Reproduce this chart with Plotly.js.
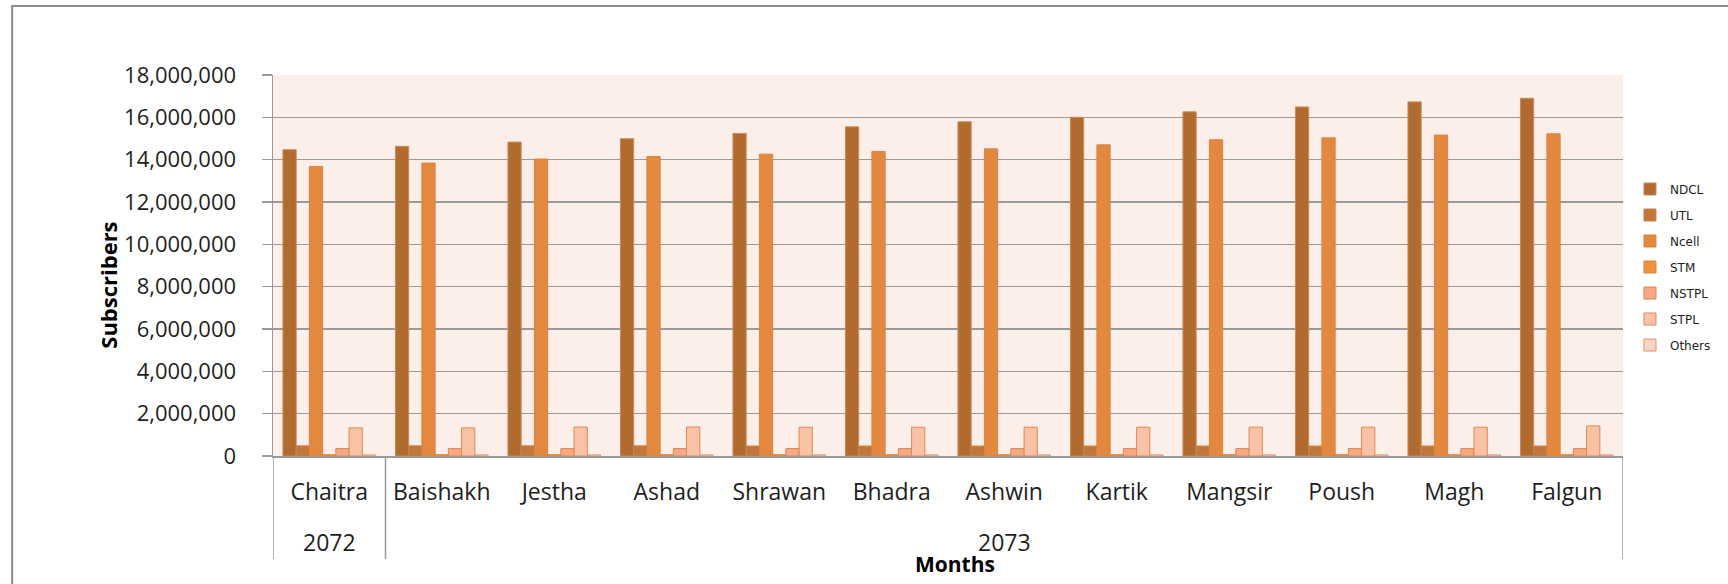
<!DOCTYPE html>
<html>
<head>
<meta charset="utf-8">
<script src="https://cdn.plot.ly/plotly-3.0.1.min.js"></script>
<style>
  html, body { margin: 0; padding: 0; background: #ffffff; }
  #chart { width: 1728px; height: 584px; }
</style>
</head>
<body>
<div id="chart"></div>
<script>
// ---- data ----
const years  = ['2072', '2073', '2073', '2073', '2073', '2073', '2073', '2073', '2073', '2073', '2073', '2073'];
const months = ['Chaitra', 'Baishakh', 'Jestha', 'Ashad', 'Shrawan', 'Bhadra', 'Ashwin', 'Kartik', 'Mangsir', 'Poush', 'Magh', 'Falgun'];
const seriesNames = ['NDCL', 'UTL', 'Ncell', 'STM', 'NSTPL', 'STPL', 'Others'];

const NDCL   = [14470000, 14630000, 14830000, 14990000, 15240000, 15550000, 15790000, 16000000, 16260000, 16490000, 16730000, 16900000];
const UTL    = [480000, 480000, 480000, 480000, 470000, 470000, 470000, 470000, 470000, 470000, 470000, 470000];
const Ncell  = [13680000, 13840000, 14030000, 14150000, 14260000, 14390000, 14510000, 14700000, 14940000, 15030000, 15160000, 15220000];
const STM    = [60000, 60000, 60000, 60000, 60000, 60000, 60000, 60000, 60000, 60000, 60000, 60000];
const NSTPL  = [350000, 350000, 350000, 350000, 350000, 350000, 350000, 350000, 350000, 350000, 350000, 350000];
const STPL   = [1330000, 1330000, 1370000, 1370000, 1360000, 1360000, 1360000, 1360000, 1360000, 1360000, 1360000, 1420000];
const Others = [50000, 50000, 50000, 50000, 50000, 50000, 50000, 50000, 50000, 50000, 50000, 50000];

const seriesValues = [NDCL, UTL, Ncell, STM, NSTPL, STPL, Others];
const yTickVals = [0, 2000000, 4000000, 6000000, 8000000, 10000000, 12000000, 14000000, 16000000, 18000000];
const yTickText = ['0', '2,000,000', '4,000,000', '6,000,000', '8,000,000', '10,000,000', '12,000,000', '14,000,000', '16,000,000', '18,000,000'];
const xTitle = 'Months';
const yTitle = 'Subscribers';

// ---- styles ----
const fills   = ['#B26B2F', '#C2773A', '#E2883F', '#F0913F', '#F6A982', '#F9C2A5', '#FAD6C6'];
const outline = ['#C98A5C', '#C98048', '#D9833F', '#D9843E', '#DB8652', '#DC8A58', '#DE9468'];
const gray = '#9a9a9a';

const traces = seriesNames.map((name, i) => ({
  type: 'bar',
  name: name,
  legendgroup: name,
  x: months,
  y: seriesValues[i],
  marker: { color: fills[i], line: { color: outline[i], width: 1 } },
  hoverinfo: 'skip'
}));

const plotLeft = 273, plotRight = 1629, plotTop = 75, plotBottom = 456;
const pw = plotRight - plotLeft, ph = plotBottom - plotTop;
const px = v => (v - plotLeft) / pw;
const py = v => (plotBottom - v) / ph;

// year groups (second category level) derived from the years array
const groups = [];
years.forEach((yr, i) => {
  if (groups.length && groups[groups.length - 1].year === yr) groups[groups.length - 1].end = i;
  else groups.push({ year: yr, start: i, end: i });
});

const annotations = groups.map(g => ({
  text: g.year,
  xref: 'x', yref: 'paper',
  x: (g.start + g.end) / 2, y: py(542),
  xanchor: 'center', yanchor: 'middle',
  height: 22,
  showarrow: false,
  font: { family: 'Open Sans, sans-serif', size: 23, color: '#1e1e1e' }
}));
annotations.push({
  text: '<b>' + xTitle + '</b>',
  xref: 'paper', yref: 'paper',
  x: px(958), y: py(564),
  xanchor: 'center', yanchor: 'middle',
  height: 20,
  showarrow: false,
  font: { family: 'Open Sans, sans-serif', size: 21, color: '#000000' }
});
annotations.push({
  text: '<b>' + yTitle + '</b>',
  xref: 'paper', yref: 'paper',
  x: px(107), y: py(285),
  xanchor: 'center', yanchor: 'middle',
  textangle: -90,
  showarrow: false,
  font: { family: 'Open Sans, sans-serif', size: 22, color: '#000000' }
});

const dividerPos = groups.map(g => g.start - 0.5);
dividerPos.push(groups[groups.length - 1].end + 0.5);
const shapes = dividerPos.map(p => ({
  type: 'line', xref: 'x', yref: 'paper',
  x0: p, x1: p, y0: 0, y1: py(559),
  line: { color: gray, width: 1.5 }
}));
shapes.push({
  type: 'path', xref: 'paper', yref: 'paper',
  path: 'M ' + px(11) + ' ' + py(600) + ' L ' + px(11) + ' ' + py(6) + ' L ' + px(1740) + ' ' + py(6),
  line: { color: '#8c8c8c', width: 2 }
});

const layout = {
  width: 1728,
  height: 584,
  margin: { l: plotLeft, r: 1728 - plotRight, t: plotTop, b: 584 - plotBottom, pad: 0 },
  paper_bgcolor: '#ffffff',
  plot_bgcolor: '#FCEEE9',
  font: { family: 'Open Sans, sans-serif', size: 23, color: '#1e1e1e' },
  barmode: 'group',
  bargap: 0.177,
  bargroupgap: 0,
  showlegend: true,
  legend: {
    x: px(1636), xanchor: 'left',
    y: py(267), yanchor: 'middle',
    font: { family: 'DejaVu Sans, sans-serif', size: 12, color: '#1e1e1e' },
    bgcolor: 'rgba(0,0,0,0)',
    tracegroupgap: 7,
    itemclick: false, itemdoubleclick: false
  },
  xaxis: {
    type: 'category',
    range: [-0.5, months.length - 0.5],
    showline: true, linecolor: gray, linewidth: 1.5,
    showgrid: false,
    ticks: '',
    ticklabelstandoff: 15,
    tickfont: { family: 'Open Sans, sans-serif', size: 23, color: '#1e1e1e' },
    fixedrange: true
  },
  yaxis: {
    range: [0, 18000000],
    tickmode: 'array', tickvals: yTickVals, ticktext: yTickText,
    ticks: 'outside', ticklen: 10, tickcolor: gray, tickwidth: 1.5,
    ticklabelstandoff: 21,
    showline: true, linecolor: gray, linewidth: 1.5,
    showgrid: true, gridcolor: gray, gridwidth: 1.5,
    zeroline: false,
    tickfont: { family: 'Open Sans, sans-serif', size: 22, color: '#1e1e1e' },
    fixedrange: true
  },
  annotations: annotations,
  shapes: shapes
};

Plotly.newPlot('chart', traces, layout, { displayModeBar: false, staticPlot: true });
</script>
</body>
</html>
